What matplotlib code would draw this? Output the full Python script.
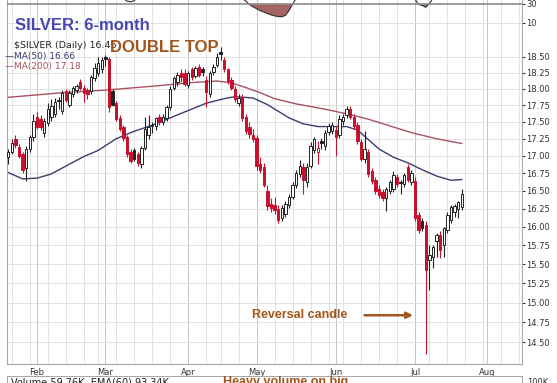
import matplotlib
matplotlib.use('Agg')
import matplotlib.pyplot as plt
import numpy as np
import pandas as pd


# -----------------------------------------------------------------------------------------------------------
# données
# -----------------------------------------------------------------------------------------------------------
opens  = [16.98, 17.06, 17.25, 17.13, 17.02, 16.82, 17.10, 17.27, 17.58, 17.55,
          17.33, 17.48, 17.58, 17.62, 17.82, 17.66, 17.96, 17.76, 17.92, 17.98,
          18.10, 18.02, 17.98, 17.96, 18.17, 18.25, 18.30, 18.50, 18.47, 17.96,
          17.78, 17.56, 17.42, 17.28, 17.06, 17.08, 17.02, 16.88, 17.12, 17.30,
          17.45, 17.44, 17.58, 17.50, 17.56, 17.72, 18.02, 18.10, 18.24, 18.25,
          18.06, 18.30, 18.20, 18.34, 18.30, 18.14, 17.92, 18.26, 18.37, 18.58,
          18.44, 18.30, 18.14, 18.00, 17.79, 17.88, 17.58, 17.42, 17.30, 17.26,
          16.88, 16.84, 16.50, 16.32, 16.30, 16.25, 16.12, 16.18, 16.30, 16.42,
          16.58, 16.74, 16.84, 16.62, 16.86, 17.08, 17.06, 17.22, 17.14, 17.35,
          17.36, 17.38, 17.30, 17.52, 17.60, 17.70, 17.58, 17.46, 17.20, 16.96,
          17.06, 16.78, 16.66, 16.52, 16.48, 16.40, 16.50, 16.52, 16.70, 16.62,
          16.60, 16.84, 16.63, 16.64, 16.16, 16.08, 16.03, 15.55, 15.60, 15.81,
          15.89, 15.75, 15.96, 16.10, 16.20, 16.25, 16.28]
highs  = [17.10, 17.24, 17.30, 17.18, 17.05, 17.15, 17.30, 17.62, 17.65, 17.60,
          17.56, 17.78, 17.85, 17.86, 17.88, 17.98, 18.00, 17.98, 18.05, 18.08,
          18.15, 18.06, 18.02, 18.22, 18.40, 18.50, 18.50, 18.53, 18.50, 18.00,
          17.82, 17.60, 17.46, 17.30, 17.10, 17.12, 17.06, 17.14, 17.58, 17.60,
          17.50, 17.58, 17.62, 17.62, 17.75, 18.04, 18.20, 18.26, 18.30, 18.30,
          18.28, 18.34, 18.36, 18.38, 18.34, 18.20, 18.28, 18.38, 18.56, 18.66,
          18.50, 18.32, 18.18, 18.04, 17.92, 17.92, 17.62, 17.50, 17.40, 17.30,
          16.98, 16.90, 16.58, 16.40, 16.42, 16.30, 16.30, 16.36, 16.46, 16.62,
          16.80, 16.94, 16.90, 16.90, 17.20, 17.28, 17.22, 17.26, 17.38, 17.48,
          17.50, 17.44, 17.60, 17.62, 17.74, 17.74, 17.62, 17.50, 17.24, 17.36,
          17.10, 16.82, 16.70, 16.58, 16.52, 16.56, 16.66, 16.78, 16.74, 16.66,
          16.76, 16.88, 16.80, 16.70, 16.20, 16.12, 16.08, 15.75, 15.75, 15.92,
          15.94, 16.00, 16.20, 16.30, 16.32, 16.36, 16.53]
lows   = [16.88, 17.02, 17.12, 16.97, 16.76, 16.64, 17.05, 17.22, 17.40, 17.38,
          17.28, 17.44, 17.52, 17.58, 17.70, 17.62, 17.80, 17.72, 17.88, 17.94,
          17.98, 17.80, 17.85, 17.92, 18.12, 18.20, 18.25, 18.35, 17.65, 17.74,
          17.52, 17.36, 17.22, 16.98, 16.90, 16.92, 16.86, 16.82, 17.08, 17.25,
          17.34, 17.38, 17.46, 17.45, 17.52, 17.68, 17.98, 18.05, 18.10, 18.04,
          18.02, 18.14, 18.16, 18.18, 18.20, 17.72, 17.88, 18.22, 18.34, 18.44,
          18.26, 18.08, 17.98, 17.80, 17.74, 17.52, 17.32, 17.26, 17.20, 16.80,
          16.76, 16.55, 16.24, 16.20, 16.18, 16.05, 16.08, 16.14, 16.26, 16.38,
          16.54, 16.70, 16.45, 16.56, 16.82, 17.04, 16.88, 17.10, 17.08, 17.30,
          17.32, 17.00, 17.26, 17.46, 17.56, 17.54, 17.40, 17.18, 16.92, 16.90,
          16.70, 16.60, 16.46, 16.40, 16.36, 16.22, 16.46, 16.48, 16.56, 16.46,
          16.56, 16.62, 16.58, 16.08, 15.92, 15.94, 14.36, 15.16, 15.45, 15.60,
          15.58, 15.60, 15.92, 16.06, 16.14, 16.12, 16.24]
closes = [17.05, 17.19, 17.16, 17.00, 16.80, 17.10, 17.27, 17.52, 17.43, 17.42,
          17.52, 17.70, 17.74, 17.80, 17.81, 17.93, 17.83, 17.94, 18.01, 18.04,
          18.01, 17.94, 17.92, 18.18, 18.33, 18.40, 18.44, 18.46, 17.72, 17.76,
          17.55, 17.40, 17.26, 17.03, 16.93, 16.96, 16.90, 17.12, 17.40, 17.43,
          17.44, 17.56, 17.50, 17.58, 17.72, 18.00, 18.17, 18.22, 18.18, 18.08,
          18.25, 18.18, 18.32, 18.22, 18.26, 17.95, 18.24, 18.34, 18.50, 18.55,
          18.30, 18.12, 18.02, 17.84, 17.86, 17.56, 17.36, 17.32, 17.25, 16.85,
          16.80, 16.59, 16.29, 16.26, 16.24, 16.09, 16.26, 16.31, 16.42, 16.58,
          16.76, 16.86, 16.66, 16.84, 17.15, 17.24, 17.12, 17.19, 17.34, 17.44,
          17.46, 17.28, 17.55, 17.58, 17.70, 17.58, 17.44, 17.22, 16.96, 17.10,
          16.74, 16.64, 16.50, 16.44, 16.40, 16.52, 16.63, 16.72, 16.60, 16.61,
          16.73, 16.65, 16.75, 16.12, 15.96, 15.99, 15.43, 15.62, 15.73, 15.89,
          15.69, 15.98, 16.17, 16.28, 16.29, 16.34, 16.46]

ma50_idx  = [0, 4, 8, 12, 17, 21, 25, 30, 35, 40, 45, 50, 55, 60, 63, 68,
             72, 75, 78, 82, 86, 90, 94, 97, 100, 103, 107, 111, 115, 119, 123, 126]
ma50_val  = [16.76, 16.67, 16.68, 16.74, 16.88, 16.99, 17.08, 17.25, 17.36, 17.45, 17.56, 17.67,
             17.78, 17.85, 17.88, 17.86, 17.76, 17.66, 17.56, 17.47, 17.43, 17.43, 17.43, 17.38,
             17.24, 17.10, 16.98, 16.90, 16.80, 16.71, 16.65, 16.66]

ma200_idx = [0, 15, 27, 40, 52, 58, 62, 66, 70, 74, 80, 88, 95, 100, 106, 112, 119, 126]
ma200_val = [17.87, 17.94, 17.98, 18.04, 18.10, 18.12, 18.09, 18.02, 17.94, 17.85, 17.77,
             17.69, 17.61, 17.54, 17.44, 17.34, 17.25, 17.18]

rsi_idx = [0, 10, 20, 28, 31, 32, 33, 34, 35, 36, 40, 50, 58, 63, 65, 66, 67, 68, 69, 70,
           71, 72, 73, 74, 75, 76, 77, 78, 79, 80, 86, 95, 101, 106, 110, 112, 113, 114,
           115, 116, 117, 118, 122, 126]
rsi_val = [45, 62, 66, 58, 40, 36, 33, 32.3, 33.5, 37, 48, 62, 66, 44, 36, 33, 29.5, 27, 25, 23,
           21.5, 20, 18.5, 17.5, 16.8, 16.5, 18, 23, 30, 36, 55, 62, 42, 40, 46, 42, 35, 29.5,
           28.5, 26.5, 30.5, 36, 50, 56]

price_ticks  = [14.50, 14.75, 15.00, 15.25, 15.50, 15.75, 16.00, 16.25,
                16.50, 16.75, 17.00, 17.25, 17.50, 17.75, 18.00, 18.25, 18.50]
month_labels = ['Feb', 'Mar', 'Apr', 'May', 'Jun', 'Jul', 'Aug']
holidays     = ['2017-02-20', '2017-04-14', '2017-05-29', '2017-07-04']


# -----------------------------------------------------------------------------------------------------------
# jours de bourse -> positions
# -----------------------------------------------------------------------------------------------------------
dates = pd.bdate_range('2017-01-20', '2017-08-20', freq='C', holidays=holidays)
month_pos = []
for m in [2, 3, 4, 5, 6, 7, 8]:
    month_pos.append(int(np.argmax(dates.month == m)))
week_pos = [i for i in range(1, len(dates)) if dates[i].isocalendar()[1] != dates[i-1].isocalendar()[1]]

W, H = 557, 383
def fx(px):
    return px / W
def fy(py):
    return 1 - py / H

red      = '#c8102e'
dark     = '#222222'
brown    = '#a0561c'
grid_c   = '#dedede'
month_c  = '#c4c4c4'
spine_c  = '#a8a8a8'
ma50_c   = '#3a3d6e'
ma200_c  = '#a8525f'

fig = plt.figure(figsize=(W / 100, H / 100), dpi=100)
fig.patch.set_facecolor('white')

left, right = 7, 522
xlo, xhi = (left - 8.2) / 3.6, (right - 8.2) / 3.6


# -----------------------------------------------------------------------------------------------------------
# panneau RSI (coupé en haut)
# -----------------------------------------------------------------------------------------------------------
ax_r = fig.add_axes([fx(left), fy(40), fx(right - left), 40 / H])
ax_r.set_xlim(xlo, xhi)
ax_r.set_ylim(-7.9, 34.2)
for p in week_pos:
    ax_r.axvline(p, color=grid_c, lw=0.6, zorder=0)
for p in month_pos:
    ax_r.axvline(p, color=month_c, lw=0.7, zorder=0)
ax_r.axhline(10, color=grid_c, lw=0.6, zorder=0)
rv = np.array(rsi_val, dtype=float)
ax_r.fill_between(rsi_idx, rv, 30, where=rv < 30, interpolate=True, color='#a46464', lw=0, zorder=1)
ax_r.plot(rsi_idx, rv, color='#303030', lw=0.8, zorder=2)
ax_r.axhline(30, color='#8c8c8c', lw=1.2, zorder=3)
ax_r.set_xticks([])
ax_r.yaxis.tick_right()
ax_r.set_yticks([10, 30])
ax_r.tick_params(axis='y', labelsize=6, length=2, pad=1, colors='#333333')
ax_r.spines['top'].set_visible(False)
for s in ['left', 'right', 'bottom']:
    ax_r.spines[s].set_color(spine_c)
    ax_r.spines[s].set_linewidth(0.8)


# -----------------------------------------------------------------------------------------------------------
# panneau des prix
# -----------------------------------------------------------------------------------------------------------
ax = fig.add_axes([fx(left), fy(364), fx(right - left), (364 - 40) / H])
ax.set_yscale('log')
ax.set_xlim(xlo, xhi)
ax.set_ylim(14.236, 18.765)

for p in week_pos:
    ax.axvline(p, color=grid_c, lw=0.6, zorder=0)
for p in month_pos:
    ax.axvline(p, color=month_c, lw=0.7, zorder=0)
for t in price_ticks:
    ax.axhline(t, color=grid_c, lw=0.6, zorder=0)

o = np.array(opens)
h = np.array(highs)
l = np.array(lows)
c = np.array(closes)
idx = np.arange(len(c))
prev = np.concatenate([[o[0]], c[:-1]])
cols = [red if c[i] < prev[i] else dark for i in idx]
faces = ['white' if c[i] >= o[i] else cols[i] for i in idx]

ax.vlines(idx, l, h, colors=cols, lw=0.8, zorder=3)
ax.bar(idx, np.maximum(np.abs(c - o), 0.012), bottom=np.minimum(o, c), width=0.72,
       color=faces, edgecolor=cols, linewidth=0.7, zorder=4)

ax.plot(ma50_idx, ma50_val, color=ma50_c, lw=1.0, zorder=2)
ax.plot(ma200_idx, ma200_val, color=ma200_c, lw=1.0, zorder=2)

ax.yaxis.tick_right()
ax.set_yticks(price_ticks)
ax.set_yticklabels(['%.2f' % t for t in price_ticks])
ax.yaxis.set_minor_locator(matplotlib.ticker.NullLocator())
ax.tick_params(axis='y', labelsize=6, length=2, pad=1, colors='#333333')
ax.set_xticks(month_pos)
ax.set_xticklabels(month_labels)
ax.tick_params(axis='x', labelsize=6, length=0, pad=3, colors='#333333')
ax.spines['top'].set_visible(False)
for s in ['left', 'right', 'bottom']:
    ax.spines[s].set_color(spine_c)
    ax.spines[s].set_linewidth(0.8)

# flèche "Reversal candle"
ax.annotate('', xy=(113.2, 14.84), xytext=(98.2, 14.84),
            arrowprops=dict(arrowstyle='-|>', color=brown, lw=1.8, mutation_scale=9), zorder=5)


# -----------------------------------------------------------------------------------------------------------
# panneau volume (coupé en bas)
# -----------------------------------------------------------------------------------------------------------
ax_v = fig.add_axes([fx(left), 0, fx(right - left), 7 / H])
ax_v.set_xlim(xlo, xhi)
ax_v.set_xticks([])
ax_v.set_yticks([])
ax_v.spines['bottom'].set_visible(False)
for s in ['left', 'right', 'top']:
    ax_v.spines[s].set_color(spine_c)
    ax_v.spines[s].set_linewidth(0.8)


# -----------------------------------------------------------------------------------------------------------
# textes
# -----------------------------------------------------------------------------------------------------------
fig.text(fx(15), fy(25), 'SILVER: 6-month', family='Liberation Sans', weight='bold',
         fontsize=12, color='#4646b4', va='center', ha='left')
fig.text(fx(14), fy(46), '$SILVER (Daily) 16.46', fontsize=6.8, color='#222222', va='center', ha='left')
fig.text(fx(5), fy(56), '\u2014MA(50) 16.66', fontsize=6.5, color=ma50_c, va='center', ha='left')
fig.text(fx(5), fy(66), '\u2014MA(200) 17.18', fontsize=6.5, color=ma200_c, va='center', ha='left')
fig.text(fx(110), fy(47), 'DOUBLE TOP', family='Liberation Sans', weight='bold',
         fontsize=12, color=brown, va='center', ha='left')
fig.text(fx(252), fy(315), 'Reversal candle', family='Liberation Sans', weight='bold',
         fontsize=9, color=brown, va='center', ha='left')
fig.text(fx(11), fy(377.5), 'Volume 59.76K, EMA(60) 93.34K', fontsize=7, color='#222222', va='top', ha='left')
fig.text(fx(223), fy(376.5), 'Heavy volume on big', family='Liberation Sans', weight='bold',
         fontsize=9, color=brown, va='top', ha='left')
fig.text(fx(527), fy(378), '100K', fontsize=6, color='#333333', va='top', ha='left')

fig.savefig('out.png', dpi=100, facecolor='white')
